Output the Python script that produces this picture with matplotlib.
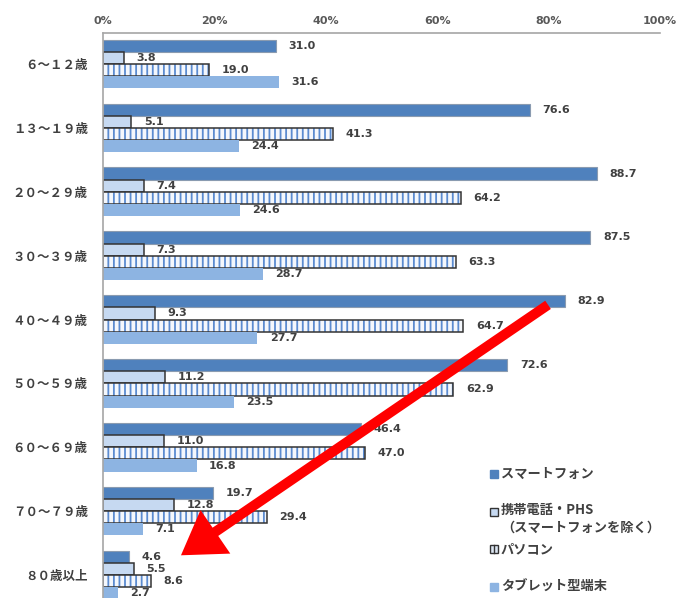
import matplotlib
matplotlib.use("Agg")
import matplotlib.pyplot as plt
from matplotlib.patches import Rectangle
from matplotlib.lines import Line2D
import numpy as np

plt.rcParams['font.family'] = ['Noto Sans CJK JP', 'DejaVu Sans']
plt.rcParams['hatch.linewidth'] = 1.3

# Data (%).
ages = ["６～１２歳", "１３～１９歳", "２０～２９歳", "３０～３９歳", "４０～４９歳",
        "５０～５９歳", "６０～６９歳", "７０～７９歳", "８０歳以上"]
smartphone = [31.0, 76.6, 88.7, 87.5, 82.9, 72.6, 46.4, 19.7, 4.6]
feature_phone = [3.8, 5.1, 7.4, 7.3, 9.3, 11.2, 11.0, 12.8, 5.5]
pc = [19.0, 41.3, 64.2, 63.3, 64.7, 62.9, 47.0, 29.4, 8.6]
tablet = [31.6, 24.4, 24.6, 28.7, 27.7, 23.5, 16.8, 7.1, 2.7]
series_names = ["スマートフォン", "携帯電話・PHS\n（スマートフォンを除く）", "パソコン", "タブレット型端末"]
xticks = [0, 20, 40, 60, 80, 100]

W, H = 679, 598
fig = plt.figure(figsize=(W / 100, H / 100), dpi=100)

# Axes spans x 103..660 px and y 33..608 px (bottom is cropped in the reference).
ax = fig.add_axes([103 / W, 1 - 608 / H, 557 / W, 575 / H])

y = np.arange(len(ages))
h = 0.19
txt_color = "#404040"

ax.barh(y - 1.5 * h, smartphone, h, color="#4f81bd", edgecolor="#8a9bb0", lw=0.8)
ax.barh(y - 0.5 * h, feature_phone, h, color="#c6d9f1", edgecolor="#333333", lw=1.1)
# striped PC bars: hatch layer then outline
ax.barh(y + 0.5 * h, pc, h, color="#f4f7fc", edgecolor="#5b8bd0", lw=0, hatch="|||")
ax.barh(y + 0.5 * h, pc, h, fill=False, edgecolor="#333333", lw=1.1)
ax.barh(y + 1.5 * h, tablet, h, color="#8db4e2", edgecolor="none")

for vals, off in [(smartphone, -1.5), (feature_phone, -0.5), (pc, 0.5), (tablet, 1.5)]:
    for i, v in enumerate(vals):
        ax.annotate(f"{v:.1f}", (v, i + off * h), xytext=(9, 0), textcoords="offset points",
                    ha="left", va="center", fontsize=8, fontweight="bold",
                    color=txt_color, family="DejaVu Sans")

ax.set_xlim(0, 100)
ax.set_ylim(len(ages) - 0.485, -0.485)
ax.xaxis.tick_top()
ax.set_xticks(xticks)
ax.set_xticklabels([f"{t}%" for t in xticks], fontsize=8, fontweight="bold",
                   color="#595959", family="DejaVu Sans")
ax.tick_params(axis="x", length=0, pad=5)
ax.set_yticks(y)
ax.set_yticklabels(ages, fontsize=9, fontweight="bold", color=txt_color)
ax.tick_params(axis="y", length=0, pad=11)
for s in ["right", "bottom"]:
    ax.spines[s].set_visible(False)
for s in ["top", "left"]:
    ax.spines[s].set_color("#a6a6a6")
    ax.spines[s].set_linewidth(1.2)

# Legend drawn by hand at lower right
legend_rows = [474, 512, 549, 587]
legend_styles = [
    dict(facecolor="#4f81bd", edgecolor="#4f81bd"),
    dict(facecolor="#c6d9f1", edgecolor="#333333"),
    dict(facecolor="#dce6f2", edgecolor="#333333"),
    dict(facecolor="#8db4e2", edgecolor="#8db4e2"),
]
for k, (py, style, name) in enumerate(zip(legend_rows, legend_styles, series_names)):
    fig.patches.append(Rectangle((490 / W, 1 - (py + 4) / H), 8 / W, 8 / H,
                                 transform=fig.transFigure, lw=1, **style))
    if k == 2:
        fig.lines.append(Line2D([494 / W, 494 / W], [1 - (py + 4) / H, 1 - (py - 4) / H],
                                transform=fig.transFigure, color="#333333", lw=1))
    if "\n" in name:
        fig.text(501 / W, 1 - (py - 9) / H, name, fontsize=9.5, fontweight="bold",
                 color=txt_color, va="top", linespacing=1.3)
    else:
        fig.text(501 / W, 1 - py / H, name, fontsize=9.5, fontweight="bold",
                 color=txt_color, va="center")

# Red arrow
ax.annotate("", xy=(14.0, 7.69), xytext=(79.9, 3.77),
            arrowprops=dict(arrowstyle="simple,tail_width=0.36,head_width=1.9,head_length=1.5",
                            mutation_scale=20, lw=0, color="#ff0000",
                            shrinkA=0, shrinkB=0))

fig.savefig("out.png", dpi=100)
